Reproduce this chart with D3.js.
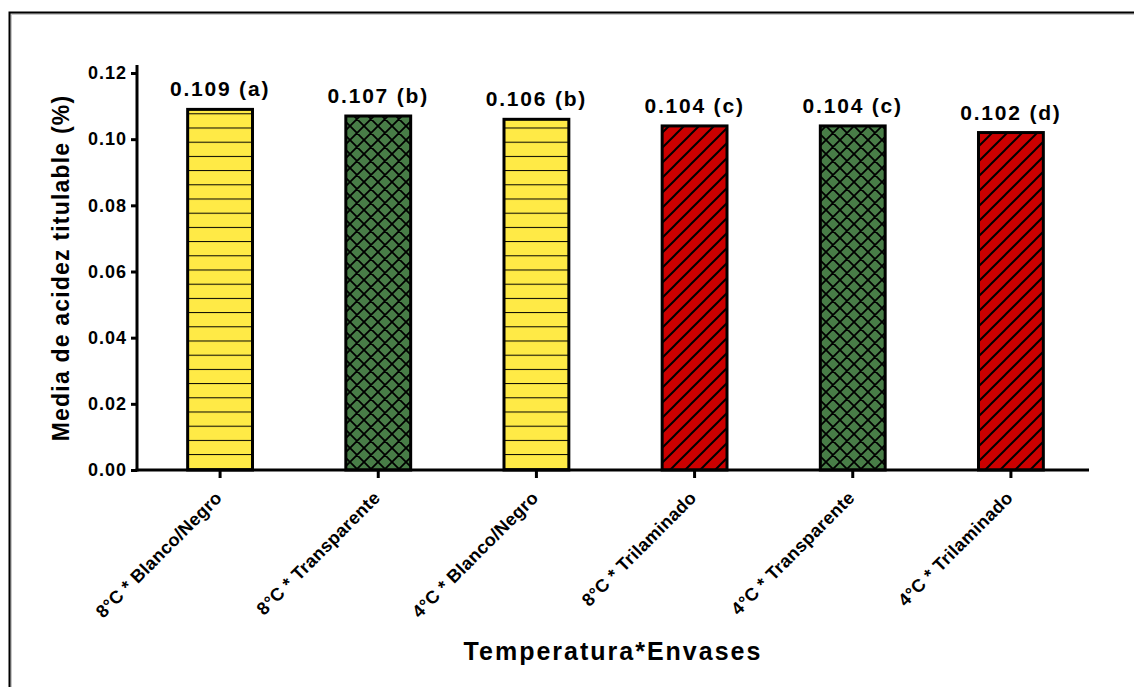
<!DOCTYPE html>
<html>
<head>
<meta charset="utf-8">
<script src="https://cdn.jsdelivr.net/npm/d3@7"></script>
<style>
  html, body { margin: 0; padding: 0; background: #fff; }
  svg { display: block; font-family: Arial, "Liberation Sans", Helvetica, sans-serif; }
</style>
</head>
<body>
<svg id="chart" width="1134" height="687"></svg>
<script>
// Treatment combinations (temperature * package) in plotted order
const categories = [
  "8°C * Blanco/Negro",
  "8°C * Transparente",
  "4°C * Blanco/Negro",
  "8°C * Trilaminado",
  "4°C * Transparente",
  "4°C * Trilaminado"
];
// Mean titratable acidity (%)
const means = [0.109, 0.107, 0.106, 0.104, 0.104, 0.102];
// Tukey grouping letters
const groups = ["a", "b", "b", "c", "c", "d"];
// Fill pattern per package type
const packages = ["bn", "tr", "bn", "tl", "tr", "tl"];
const yTicks = [0.00, 0.02, 0.04, 0.06, 0.08, 0.10, 0.12];

const svg = d3.select("#chart");

// Outer frame
svg.append("rect")
  .attr("x", 11).attr("y", 14).attr("width", 1300).attr("height", 900)
  .attr("fill", "none").attr("stroke", "#c8c8c8").attr("stroke-width", 2);
svg.append("rect")
  .attr("x", 9.5).attr("y", 12.5).attr("width", 1300).attr("height", 900)
  .attr("fill", "none").attr("stroke", "#000").attr("stroke-width", 2);

const x = d3.scaleBand().domain(categories).range([141, 1090]).paddingInner(0.59).paddingOuter(0.295);
const y = d3.scaleLinear().domain([0, 0.12]).range([470, 73]);

// Hatch patterns
const defs = svg.append("defs");
const pBN = defs.append("pattern").attr("id", "pat-bn")
  .attr("patternUnits", "userSpaceOnUse").attr("x", 0).attr("y", 468.3)
  .attr("width", 20).attr("height", 14.2);
pBN.append("rect").attr("width", 20).attr("height", 14.2).attr("fill", "#ffea46");
pBN.append("line").attr("x1", 0).attr("x2", 20).attr("y1", 0).attr("y2", 0)
  .attr("stroke", "#000").attr("stroke-width", 2);

const pTR = defs.append("pattern").attr("id", "pat-tr")
  .attr("patternUnits", "userSpaceOnUse").attr("x", 0).attr("y", 0)
  .attr("width", 14).attr("height", 14);
pTR.append("rect").attr("width", 14).attr("height", 14).attr("fill", "#487d47");
pTR.append("path").attr("d", "M0,0L14,14M0,14L14,0M-1,1L1,-1M13,15L15,13M-1,13L1,15M13,-1L15,1")
  .attr("stroke", "#000").attr("stroke-width", 1.8);

const pTL = defs.append("pattern").attr("id", "pat-tl")
  .attr("patternUnits", "userSpaceOnUse").attr("x", 0).attr("y", 0)
  .attr("width", 15).attr("height", 15);
pTL.append("rect").attr("width", 15).attr("height", 15).attr("fill", "#cc0000");
pTL.append("path").attr("d", "M0,15L15,0M-2,2L2,-2M13,17L17,13")
  .attr("stroke", "#000").attr("stroke-width", 2);

const data = categories.map((c, i) => ({ c, v: means[i], g: groups[i], p: packages[i] }));

// Bars
svg.append("g").selectAll("rect").data(data).join("rect")
  .attr("x", d => x(d.c))
  .attr("y", d => y(d.v))
  .attr("width", x.bandwidth())
  .attr("height", d => y(0) - y(d.v))
  .attr("fill", d => `url(#pat-${d.p})`)
  .attr("stroke", "#000").attr("stroke-width", 3);

// Value + letter labels
svg.append("g").selectAll("text").data(data).join("text")
  .attr("x", d => x(d.c) + x.bandwidth() / 2)
  .attr("y", d => y(d.v) - 13)
  .attr("text-anchor", "middle")
  .attr("font-size", 21).attr("font-weight", "bold").attr("letter-spacing", 1.8)
  .text(d => `${d.v.toFixed(3)} (${d.g})`);

// Y axis
const yAxis = svg.append("g").attr("transform", "translate(137,0)")
  .call(d3.axisLeft(y).tickValues(yTicks).tickFormat(d3.format(".2f")).tickSizeOuter(0).tickSize(6).tickPadding(4));
yAxis.select(".domain").remove();
yAxis.selectAll(".tick line").attr("stroke", "#000").attr("stroke-width", 3);
yAxis.selectAll(".tick text").attr("font-size", 18).attr("font-weight", "bold")
  .attr("letter-spacing", 1).attr("fill", "#000").attr("font-family", "Arial, 'Liberation Sans', sans-serif");
svg.append("line").attr("x1", 137).attr("x2", 137).attr("y1", 65).attr("y2", 471.5)
  .attr("stroke", "#000").attr("stroke-width", 3);

// X axis
const xAxis = svg.append("g").attr("transform", "translate(0,470)")
  .call(d3.axisBottom(x).tickSizeOuter(0).tickSize(8).tickPadding(6));
xAxis.select(".domain").remove();
xAxis.selectAll(".tick line").attr("stroke", "#000").attr("stroke-width", 3);
xAxis.selectAll(".tick text")
  .attr("font-size", 18).attr("font-weight", "bold").attr("fill", "#000")
  .attr("font-family", "Arial, 'Liberation Sans', sans-serif")
  .attr("text-anchor", "end").attr("letter-spacing", 0.3)
  .attr("dy", null).attr("y", 0)
  .attr("transform", "translate(3,29) rotate(-45)");
svg.append("line").attr("x1", 135.5).attr("x2", 1089).attr("y1", 470).attr("y2", 470)
  .attr("stroke", "#000").attr("stroke-width", 3);

// Axis titles
svg.append("text")
  .attr("transform", "translate(69,268) rotate(-90)")
  .attr("text-anchor", "middle")
  .attr("font-size", 23).attr("font-weight", "bold").attr("letter-spacing", 1.2)
  .text("Media de acidez titulable (%)");

svg.append("text")
  .attr("x", 613).attr("y", 660)
  .attr("text-anchor", "middle")
  .attr("font-size", 25).attr("font-weight", "bold").attr("letter-spacing", 2)
  .text("Temperatura*Envases");
</script>
</body>
</html>
